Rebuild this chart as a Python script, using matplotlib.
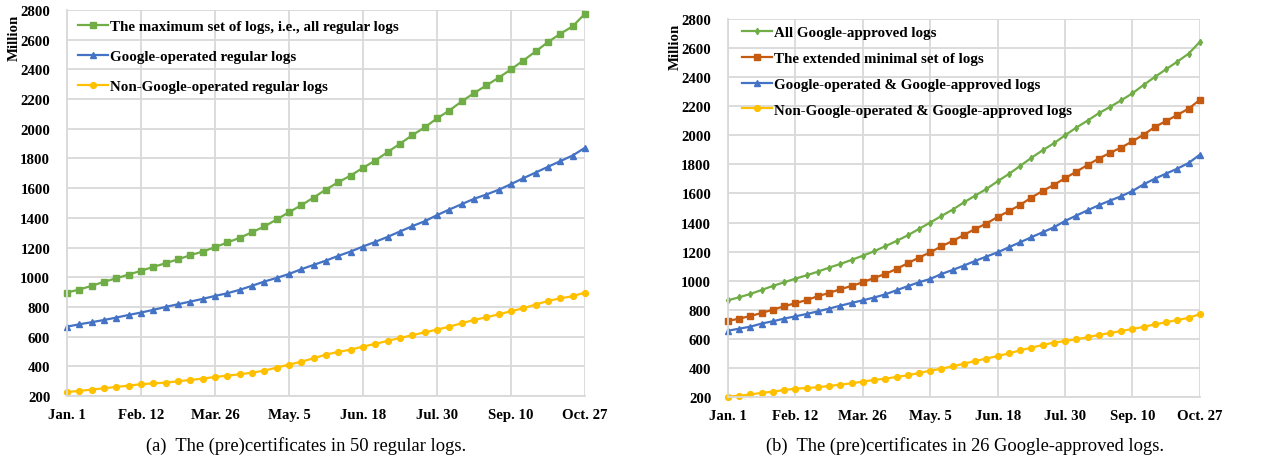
import matplotlib
matplotlib.use('Agg')
import matplotlib.pyplot as plt

tick_labels = ['Jan. 1', 'Feb. 12', 'Mar. 26', 'May. 5', 'Jun. 18', 'Jul. 30', 'Sep. 10', 'Oct. 27']
y_ticks = [200, 400, 600, 800, 1000, 1200, 1400, 1600, 1800, 2000, 2200, 2400, 2600, 2800]

# (a) regular logs, weekly points
max_set = [897, 917, 942, 969, 993, 1018, 1043, 1070, 1094, 1121, 1148, 1173, 1202,
           1234, 1265, 1303, 1342, 1389, 1438, 1485, 1537, 1591, 1640, 1685, 1737,
           1786, 1843, 1899, 1957, 2009, 2070, 2123, 2184, 2240, 2292, 2344, 2400,
           2460, 2521, 2584, 2640, 2690, 2775]
google_regular = [667, 683, 697, 712, 728, 746, 762, 780, 800, 818, 836, 854, 874,
                  892, 915, 942, 971, 995, 1022, 1054, 1083, 1112, 1144, 1173, 1207,
                  1238, 1272, 1308, 1344, 1377, 1418, 1456, 1492, 1528, 1557, 1589, 1627,
                  1667, 1705, 1744, 1782, 1820, 1872]
non_google_regular = [227, 234, 243, 252, 261, 270, 279, 285, 290, 299, 308, 317, 328,
                      337, 346, 357, 371, 391, 411, 431, 454, 479, 497, 512, 533,
                      551, 571, 591, 609, 629, 647, 667, 690, 712, 730, 750, 771,
                      791, 816, 840, 858, 872, 897]

# (b) Google-approved logs
all_approved = [865, 886, 909, 936, 964, 989, 1014, 1037, 1062, 1090, 1115, 1143, 1172,
                1202, 1237, 1273, 1312, 1356, 1400, 1445, 1489, 1539, 1585, 1631, 1684,
                1734, 1789, 1845, 1897, 1945, 2000, 2053, 2101, 2152, 2195, 2241, 2289,
                2347, 2402, 2455, 2507, 2562, 2643]
extended_min = [723, 739, 757, 778, 801, 824, 845, 867, 893, 916, 941, 964, 989,
                1019, 1046, 1081, 1120, 1159, 1195, 1237, 1273, 1315, 1356, 1393, 1439,
                1478, 1521, 1572, 1617, 1659, 1705, 1750, 1796, 1840, 1879, 1916, 1959,
                2005, 2058, 2099, 2140, 2184, 2244]
google_approved = [656, 670, 684, 705, 721, 739, 755, 771, 789, 808, 828, 847, 865,
                   884, 906, 934, 962, 989, 1012, 1046, 1074, 1104, 1136, 1166, 1195,
                   1230, 1264, 1299, 1333, 1367, 1411, 1448, 1484, 1519, 1551, 1581, 1617,
                   1663, 1702, 1737, 1771, 1810, 1867]
non_google_approved = [202, 209, 218, 228, 237, 248, 257, 262, 267, 276, 285, 294, 306,
                       317, 326, 338, 349, 365, 381, 395, 411, 429, 448, 464, 482,
                       500, 521, 539, 558, 574, 585, 597, 611, 627, 640, 654, 668,
                       682, 700, 714, 730, 744, 771]

GREEN = '#70AD47'
BLUE = '#4472C4'
YELLOW = '#FFC000'
ORANGE = '#C55A11'

plt.rcParams['font.family'] = ['Liberation Serif', 'DejaVu Serif']

fig = plt.figure(figsize=(12.78, 4.6), dpi=100)
ax1 = fig.add_axes([0.0524, 0.137, 0.4053, 0.839])
ax2 = fig.add_axes([0.5696, 0.1348, 0.3693, 0.8217])

x = list(range(len(max_set)))


def style(ax):
    ax.set_xlim(0, len(x) - 1)
    ax.set_ylim(200, 2800)
    ax.set_xticks(range(0, len(x), 6))
    ax.set_xticklabels(tick_labels, fontweight='bold', fontsize=10.7)
    ax.set_yticks(y_ticks)
    ax.set_yticklabels([str(v) for v in y_ticks], fontweight='bold', fontsize=10.7)
    ax.tick_params(axis='both', length=0)
    ax.tick_params(axis='y', pad=12)
    ax.tick_params(axis='x', pad=9)
    ax.grid(True, color='#D9D9D9', linewidth=1.3)
    ax.set_axisbelow(True)
    for s in ['top', 'right']:
        ax.spines[s].set_visible(False)
    for s in ['left', 'bottom']:
        ax.spines[s].set_color('#D9D9D9')
        ax.spines[s].set_linewidth(1.3)
    ax.set_ylabel('Million', fontweight='bold', fontsize=10.7)


style(ax1)
ax1.plot(x, max_set, color=GREEN, marker='s', ms=4.3, lw=1.6,
         label='The maximum set of logs, i.e., all regular logs', clip_on=False)
ax1.plot(x, google_regular, color=BLUE, marker='^', ms=3.8, lw=1.6,
         label='Google-operated regular logs', clip_on=False)
ax1.plot(x, non_google_regular, color=YELLOW, marker='o', ms=4.2, lw=1.6,
         label='Non-Google-operated regular logs', clip_on=False)
ax1.yaxis.set_label_coords(-0.09, 0.93)
ax1.legend(loc='upper left', bbox_to_anchor=(0.021, 0.975), frameon=False,
           borderaxespad=0, borderpad=0, labelspacing=1.1,
           handlelength=2.0, handletextpad=0.15, prop={'weight': 'bold', 'size': 10.8})

style(ax2)
ax2.plot(x, all_approved, color=GREEN, marker='d', ms=3.2, lw=1.6,
         label='All Google-approved logs', clip_on=False)
ax2.plot(x, extended_min, color=ORANGE, marker='s', ms=4.5, lw=1.6,
         label='The extended minimal set of logs', clip_on=False)
ax2.plot(x, google_approved, color=BLUE, marker='^', ms=3.8, lw=1.6,
         label='Google-operated & Google-approved logs', clip_on=False)
ax2.plot(x, non_google_approved, color=YELLOW, marker='o', ms=4.2, lw=1.6,
         label='Non-Google-operated & Google-approved logs', clip_on=False)
ax2.yaxis.set_label_coords(-0.097, 0.93)
ax2.legend(loc='upper left', bbox_to_anchor=(0.03, 0.982), frameon=False,
           borderaxespad=0, borderpad=0, labelspacing=0.82,
           handlelength=2.0, handletextpad=0.15, prop={'weight': 'bold', 'size': 10.8})

fig.text(0.2395, 1 - 446 / 460, '(a)  The (pre)certificates in 50 regular logs.',
         ha='center', va='center', fontsize=13.3)
fig.text(0.7555, 1 - 446 / 460, '(b)  The (pre)certificates in 26 Google-approved logs.',
         ha='center', va='center', fontsize=13.3)

fig.savefig('out.png', dpi=100)
